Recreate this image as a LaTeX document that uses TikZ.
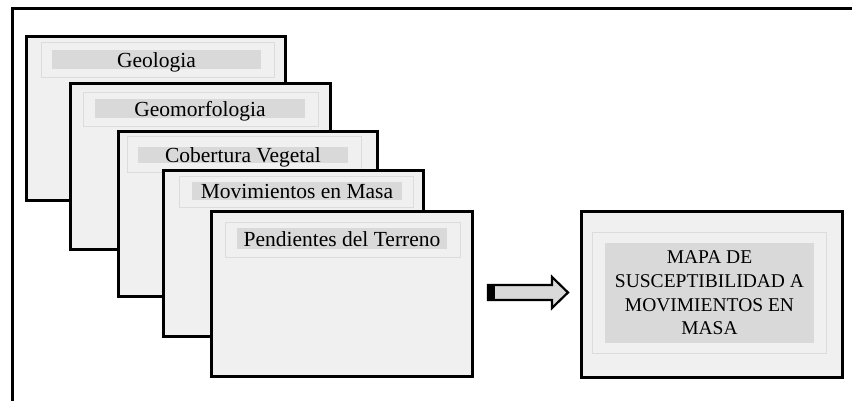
\documentclass[tikz,border=0pt]{standalone}
\usepackage{fontspec}
\setmainfont{Liberation Serif}
\definecolor{boxfill}{HTML}{F0F0F0}
\definecolor{framecol}{HTML}{DCDCDC}
\definecolor{barfill}{HTML}{D9D9D9}
\begin{document}
\begin{tikzpicture}[x=1pt,y=-1pt,
  layer/.style={draw=black, line width=3pt, fill=boxfill, anchor=north west, inner sep=0pt, outer sep=0pt},
  innerframe/.style={draw=framecol, line width=1pt, fill=boxfill, anchor=north west, inner sep=0pt, outer sep=0pt},
  bar/.style={fill=barfill, anchor=north west, inner sep=0pt, outer sep=0pt, font=\fontsize{21.5}{24}\selectfont, text height=16pt, text depth=0pt},
  bigbar/.style={fill=barfill, anchor=north west, inner sep=0pt, outer sep=0pt, align=center, font=\fontsize{19.5}{23.7}\selectfont},
  arrowshape/.style={draw=black, line width=2.2pt, fill=barfill, line join=miter}
]
\useasboundingbox (0,0) rectangle (852,401);
\draw[line width=3pt] (12,401) -- (12,9) -- (852,9);

% layer 1
\node[layer, minimum width=259pt, minimum height=164pt] (b1) at (26,37) {};
\node[innerframe, minimum width=233pt, minimum height=35pt] (f1) at (41,43) {};
\node[bar, minimum width=209pt, minimum height=19pt] (t1) at (52,50) {Geologia};

% layer 2
\node[layer, minimum width=260pt, minimum height=165pt] (b2) at (70,84) {};
\node[innerframe, minimum width=235pt, minimum height=34pt] (f2) at (83,93) {};
\node[bar, minimum width=210pt, minimum height=19pt] (t2) at (95,99) {Geomorfologia};

% layer 3
\node[layer, minimum width=259pt, minimum height=164pt] (b3) at (118,132) {};
\node[innerframe, minimum width=234pt, minimum height=36pt] (f3) at (127,137) {};
\node[bar, minimum width=210pt, minimum height=16pt] (t3) at (138,147) {Cobertura Vegetal};

% layer 4
\node[layer, minimum width=260pt, minimum height=165pt] (b4) at (163,171) {};
\node[innerframe, minimum width=234pt, minimum height=31pt] (f4) at (179,177) {};
\node[bar, minimum width=210pt, minimum height=18pt] (t4) at (192,182) {Movimientos en Masa};

% layer 5
\node[layer, minimum width=261pt, minimum height=164pt] (b5) at (211,212) {};
\node[innerframe, minimum width=235pt, minimum height=35pt] (f5) at (225,222) {};
\node[bar, minimum width=210pt, minimum height=21pt] (t5) at (237,228) {Pendientes del Terreno};

% arrow
\coordinate (a0) at (488,292.5);
\draw[arrowshape] (a0) ++(0,-7.5) -- ++(64,0) -- ++(0,-8) -- ++(16,15.5) -- ++(-16,15.5) -- ++(0,-8) -- ++(-64,0) -- cycle;
\fill[black] (a0) ++(-1.1,-8.6) rectangle ++(8.5,17.2);

% result
\node[layer, minimum width=261pt, minimum height=165pt] (r) at (581,212) {};
\node[innerframe, minimum width=234pt, minimum height=121pt] (rf) at (592,232) {};
\node[bigbar, minimum width=209pt, minimum height=100pt] (rt) at (605,243) {MAPA DE\\SUSCEPTIBILIDAD A\\MOVIMIENTOS EN\\MASA};
\end{tikzpicture}
\end{document}
